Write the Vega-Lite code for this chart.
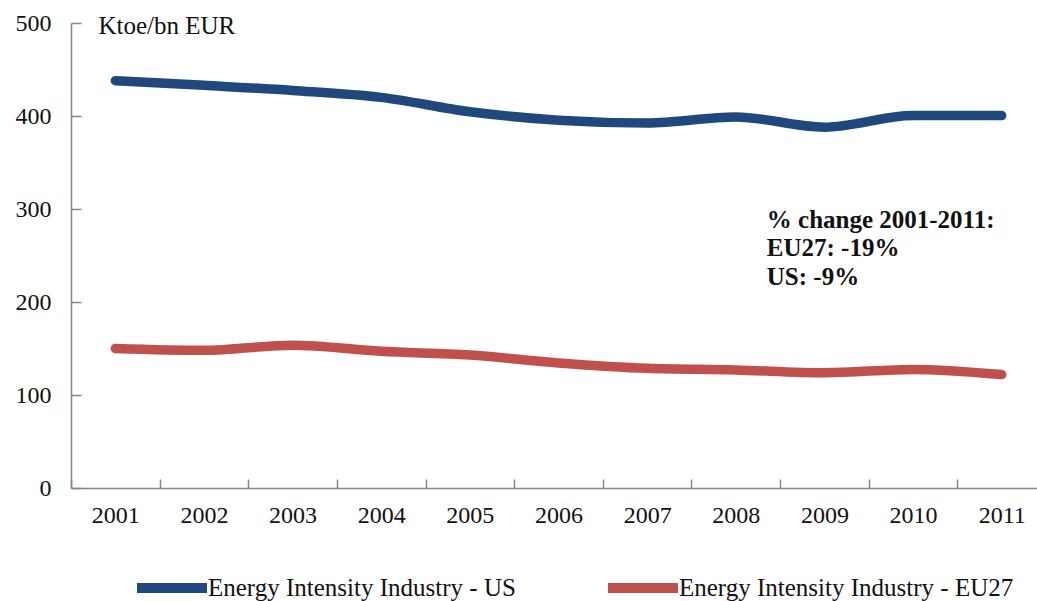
{
  "$schema": "https://vega.github.io/schema/vega-lite/v6.json",
  "width": 966,
  "height": 465,
  "autosize": {"type": "none"},
  "padding": {"left": 71, "top": 23, "right": 0, "bottom": 113},
  "config": {"font": "Liberation Serif", "view": {"stroke": null}},
  "datasets": {
    "series": [
      {"year": "2001", "series": "Energy Intensity Industry - US", "value": 438},
      {"year": "2002", "series": "Energy Intensity Industry - US", "value": 433},
      {"year": "2003", "series": "Energy Intensity Industry - US", "value": 427.5},
      {"year": "2004", "series": "Energy Intensity Industry - US", "value": 420},
      {"year": "2005", "series": "Energy Intensity Industry - US", "value": 404.5},
      {"year": "2006", "series": "Energy Intensity Industry - US", "value": 395.5},
      {"year": "2007", "series": "Energy Intensity Industry - US", "value": 392.5},
      {"year": "2008", "series": "Energy Intensity Industry - US", "value": 399},
      {"year": "2009", "series": "Energy Intensity Industry - US", "value": 388},
      {"year": "2010", "series": "Energy Intensity Industry - US", "value": 400.5},
      {"year": "2011", "series": "Energy Intensity Industry - US", "value": 400.5},
      {"year": "2001", "series": "Energy Intensity Industry - EU27", "value": 150},
      {"year": "2002", "series": "Energy Intensity Industry - EU27", "value": 148},
      {"year": "2003", "series": "Energy Intensity Industry - EU27", "value": 153.5},
      {"year": "2004", "series": "Energy Intensity Industry - EU27", "value": 147},
      {"year": "2005", "series": "Energy Intensity Industry - EU27", "value": 143},
      {"year": "2006", "series": "Energy Intensity Industry - EU27", "value": 134.5},
      {"year": "2007", "series": "Energy Intensity Industry - EU27", "value": 128.7},
      {"year": "2008", "series": "Energy Intensity Industry - EU27", "value": 127},
      {"year": "2009", "series": "Energy Intensity Industry - EU27", "value": 124},
      {"year": "2010", "series": "Energy Intensity Industry - EU27", "value": 127.5},
      {"year": "2011", "series": "Energy Intensity Industry - EU27", "value": 122}
    ],
    "notes": [
      {"year": "2008", "value": 279.6, "label": ["% change 2001-2011:", "EU27: -19%", "US: -9%"]}
    ]
  },
  "layer": [
    {
      "data": {"name": "series"},
      "mark": {"type": "line", "interpolate": "monotone", "strokeWidth": 9.5, "strokeCap": "round", "strokeJoin": "round"},
      "encoding": {
        "x": {
          "field": "year", "type": "ordinal",
          "scale": {"type": "band", "paddingInner": 0, "paddingOuter": 0, "range": [0, 975]},
          "axis": {"title": null, "labelAngle": 0, "tickBand": "extent", "tickSize": -9, "labelPadding": 24, "labelFontSize": 24, "labelColor": "#111111", "domainColor": "#868686", "tickColor": "#868686", "domainWidth": 1.5, "tickWidth": 1.5, "grid": false}
        },
        "y": {
          "field": "value", "type": "quantitative",
          "scale": {"domain": [0, 500], "nice": false},
          "axis": {"values": [0, 100, 200, 300, 400, 500], "grid": false, "tickSize": -10, "labelPadding": 30, "labelFontSize": 24, "labelColor": "#111111", "domainColor": "#868686", "tickColor": "#868686", "domainWidth": 1.5, "tickWidth": 1.5, "title": "Ktoe/bn EUR", "titleAngle": 0, "titleX": 27, "titleY": 10, "titleAlign": "left", "titleBaseline": "alphabetic", "titleFontSize": 25, "titleFontWeight": "normal", "titleColor": "#111111"}
        },
        "color": {
          "field": "series", "type": "nominal",
          "scale": {"domain": ["Energy Intensity Industry - US", "Energy Intensity Industry - EU27"], "range": ["#1F497D", "#C0504D"]},
          "legend": {"title": null, "orient": "none", "legendX": 61, "legendY": 525, "direction": "horizontal", "symbolType": "stroke", "symbolSize": 4900, "symbolStrokeWidth": 10, "labelFontSize": 25, "labelColor": "#111111", "labelOffset": -4, "columnPadding": 72, "padding": 0, "labelLimit": 500}
        }
      }
    },
    {
      "data": {"name": "notes"},
      "mark": {"type": "text", "align": "left", "baseline": "alphabetic", "fontWeight": "bold", "fontSize": 25, "lineHeight": 28.5, "color": "#111111"},
      "encoding": {
        "x": {"field": "year", "type": "ordinal", "bandPosition": 0.85},
        "y": {"field": "value", "type": "quantitative"},
        "text": {"field": "label"}
      }
    }
  ]
}
